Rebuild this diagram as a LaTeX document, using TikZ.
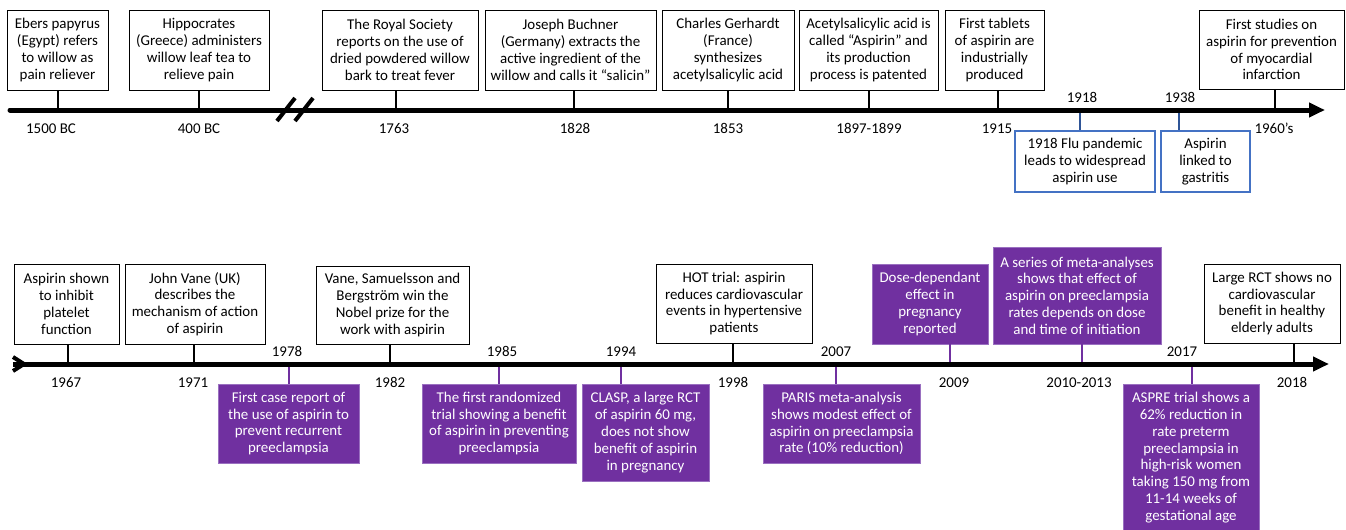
\documentclass[tikz,border=0pt]{standalone}
\usepackage{fontspec}
\setmainfont{Carlito}
\usetikzlibrary{arrows.meta}
\definecolor{purp}{HTML}{7030A0}
\definecolor{purpedge}{HTML}{9A70C0}
\definecolor{blueedge}{HTML}{4472C4}
\definecolor{bluetick}{HTML}{2F5597}
\begin{document}
\begin{tikzpicture}[x=0.75pt,y=-0.75pt,
 every node/.style={font=\fontsize{11.2pt}{12.6pt}\selectfont, inner sep=1pt},
 wbox/.style={draw=black, line width=0.75pt, fill=white, align=center, inner sep=1pt},
 bbox/.style={draw=blueedge, line width=0.9pt, fill=white, align=center, inner sep=1pt},
 pbox/.style={draw=purpedge, line width=0.6pt, fill=purp, text=white, align=center, inner sep=1pt},
 axisline/.style={line width=3.75pt},
 wtick/.style={line width=1.5pt},
 ptick/.style={line width=1.5pt, draw=purp},
 btick/.style={line width=1.5pt, draw=bluetick},
 yr/.style={anchor=base},
]
\useasboundingbox (0,0) rectangle (1346,529);

% ---------- top row ----------
\coordinate (ta) at (10,110);
\coordinate (tb) at (1325,110);

\node[wbox, minimum width=75.75pt, minimum height=60pt] (ebers) at (57.5,50) {Ebers papyrus\\(Egypt) refers\\to willow as\\pain reliever};
\node[wbox, minimum width=105pt, minimum height=60pt] (hipp) at (199,50) {Hippocrates\\(Greece) administers\\willow leaf tea to\\relieve pain};
\node[wbox, minimum width=117pt, minimum height=60pt] (royal) at (400,50) {The Royal Society\\reports on the use of\\dried powdered willow\\bark to treat fever};
\node[wbox, minimum width=128.25pt, minimum height=60pt] (buch) at (570.5,50) {Joseph Buchner\\(Germany) extracts the\\active ingredient of the\\willow and calls it “salicin”};
\node[wbox, minimum width=99pt, minimum height=60pt] (gerh) at (728,50) {Charles Gerhardt\\(France)\\synthesizes\\acetylsalicylic acid};
\node[wbox, minimum width=104.25pt, minimum height=60pt] (acet) at (868.5,50) {Acetylsalicylic acid is\\called “Aspirin” and\\its production\\process is patented};
\node[wbox, minimum width=74.25pt, minimum height=60pt] (tabl) at (994.5,50) {First tablets\\of aspirin are\\industrially\\produced};
\node[wbox, minimum width=108.75pt, minimum height=59.25pt] (myo) at (1271.5,49.5) {First studies on\\aspirin for prevention\\of myocardial\\infarction};

\node[bbox, minimum width=105pt, minimum height=45.75pt] (flu) at (1085,161.5) {1918 Flu pandemic\\leads to widespread\\aspirin use};
\node[bbox, minimum width=66.75pt, minimum height=45.75pt] (gast) at (1205.5,161.5) {Aspirin\\linked to\\gastritis};

\coordinate (t1) at (58,110);
\coordinate (t2) at (199,110);
\coordinate (t3) at (396,110);
\coordinate (t4) at (574,110);
\coordinate (t5) at (728,110);
\coordinate (t6) at (869,110);
\coordinate (t7) at (998,110);
\coordinate (t8) at (1275,110);
\coordinate (t9) at (1080,110);
\coordinate (t10) at (1179,110);

\draw[wtick] (ebers.south -| t1) -- (t1);
\draw[wtick] (hipp.south -| t2) -- (t2);
\draw[wtick] (royal.south -| t3) -- (t3);
\draw[wtick] (buch.south -| t4) -- (t4);
\draw[wtick] (gerh.south -| t5) -- (t5);
\draw[wtick] (acet.south -| t6) -- (t6);
\draw[wtick] (tabl.south -| t7) -- (t7);
\draw[wtick] (myo.south -| t8) -- (t8);
\draw[btick] (t9) -- (flu.north -| t9);
\draw[btick] (t10) -- (gast.north -| t10);

\draw[axisline, line cap=round, -{Triangle[length=12pt,width=10.5pt,line cap=butt]}] (ta) -- (tb);
\coordinate (s1a) at (277,121);
\coordinate (s1b) at (295,98);
\coordinate (s2a) at (295,121);
\coordinate (s2b) at (313,98);
\draw[line width=3pt] (s1a) -- (s1b);
\draw[line width=3pt] (s2a) -- (s2b);

\node[yr] (y1500) at (51,133) {1500 BC};
\node[yr] (y400) at (199,133) {400 BC};
\node[yr] (y1763) at (394,133) {1763};
\node[yr] (y1828) at (575,133) {1828};
\node[yr] (y1853) at (728,133) {1853};
\node[yr] (y1897) at (869,133) {1897-1899};
\node[yr] (y1915) at (997,133) {1915};
\node[yr] (y1960) at (1274,133) {1960’s};
\node[yr] (y1918) at (1082,102) {1918};
\node[yr] (y1938) at (1180,102) {1938};

% ---------- bottom row ----------
\coordinate (ba) at (13,364);
\coordinate (bb) at (1329,364);

\node[wbox, minimum width=78.75pt, minimum height=60pt] (plat) at (66.5,304) {Aspirin shown\\to inhibit\\platelet\\function};
\node[wbox, minimum width=105pt, minimum height=60pt] (vane) at (195,304) {John Vane (UK)\\describes the\\mechanism of action\\of aspirin};
\node[wbox, minimum width=114.75pt, minimum height=58.5pt] (nobel) at (392.5,305) {Vane, Samuelsson and\\Bergström win the\\Nobel prize for the\\work with aspirin};
\node[wbox, minimum width=117pt, minimum height=59.25pt] (hot) at (734,303.5) {HOT trial: aspirin\\reduces cardiovascular\\events in hypertensive\\patients};
\node[wbox, minimum width=102pt, minimum height=59.25pt] (large) at (1272,303.5) {Large RCT shows no\\cardiovascular\\benefit in healthy\\elderly adults};

\node[pbox, minimum width=87pt, minimum height=60pt] (dose) at (930,304) {Dose-dependant\\effect in\\pregnancy\\reported};
\node[pbox, minimum width=126pt, minimum height=72.75pt] (series) at (1077,295.5) {A series of meta-analyses\\shows that effect of\\aspirin on preeclampsia\\rates depends on dose\\and time of initiation};

\node[pbox, minimum width=105.75pt, minimum height=59.25pt] (case) at (288.5,423.5) {First case report of\\the use of aspirin to\\prevent recurrent\\preeclampsia};
\node[pbox, minimum width=115.5pt, minimum height=59.25pt] (rand) at (499,423.5) {The first randomized\\trial showing a benefit\\of aspirin in preventing\\preeclampsia};
\node[pbox, minimum width=95.25pt, minimum height=72.75pt] (clasp) at (645.5,432.5) {CLASP, a large RCT\\of aspirin 60 mg,\\does not show\\benefit of aspirin\\in pregnancy};
\node[pbox, minimum width=117.75pt, minimum height=59.25pt] (paris) at (841.5,423.5) {PARIS meta-analysis\\shows modest effect of\\aspirin on preeclampsia\\rate (10\% reduction)};
\node[pbox, minimum width=102pt, minimum height=110pt] (aspre) at (1191,457.5) {ASPRE trial shows a\\62\% reduction in\\rate preterm\\preeclampsia in\\high-risk women\\taking 150 mg from\\11-14 weeks of\\gestational age};

\coordinate (u1) at (68,364);
\coordinate (u2) at (194,364);
\coordinate (u3) at (390,364);
\coordinate (u4) at (733,364);
\coordinate (u5) at (1294,364);
\coordinate (u6) at (950,364);
\coordinate (u7) at (1082,364);
\coordinate (d1) at (289,364);
\coordinate (d2) at (499,364);
\coordinate (d3) at (621,364);
\coordinate (d4) at (836,364);
\coordinate (d5) at (1192,364);

\draw[wtick] (plat.south -| u1) -- (u1);
\draw[wtick] (vane.south -| u2) -- (u2);
\draw[wtick] (nobel.south -| u3) -- (u3);
\draw[wtick] (hot.south -| u4) -- (u4);
\draw[wtick] (large.south -| u5) -- (u5);
\draw[ptick] (dose.south -| u6) -- (u6);
\draw[ptick] (series.south -| u7) -- (u7);
\draw[ptick] (d1) -- (case.north -| d1);
\draw[ptick] (d2) -- (rand.north -| d2);
\draw[ptick] (d3) -- (clasp.north -| d3);
\draw[ptick] (d4) -- (paris.north -| d4);
\draw[ptick] (d5) -- (aspre.north -| d5);

\draw[axisline, -{Triangle[length=12pt,width=10.5pt]}] (ba) -- (bb);
\draw[line width=3pt, line join=miter] (ba) ++(0,-7) -- ++(11,7) -- ++(-11,7);

\node[yr] (y1978) at (287,356) {1978};
\node[yr] (y1985) at (502,356) {1985};
\node[yr] (y1994) at (621,356) {1994};
\node[yr] (y2007) at (836,356) {2007};
\node[yr] (y2017) at (1182,356) {2017};
\node[yr] (y1967) at (66,387) {1967};
\node[yr] (y1971) at (193,387) {1971};
\node[yr] (y1982) at (390,387) {1982};
\node[yr] (y1998) at (733,387) {1998};
\node[yr] (y2009) at (954,387) {2009};
\node[yr] (y2010) at (1079,387) {2010-2013};
\node[yr] (y2018) at (1292,387) {2018};
\end{tikzpicture}
\end{document}
